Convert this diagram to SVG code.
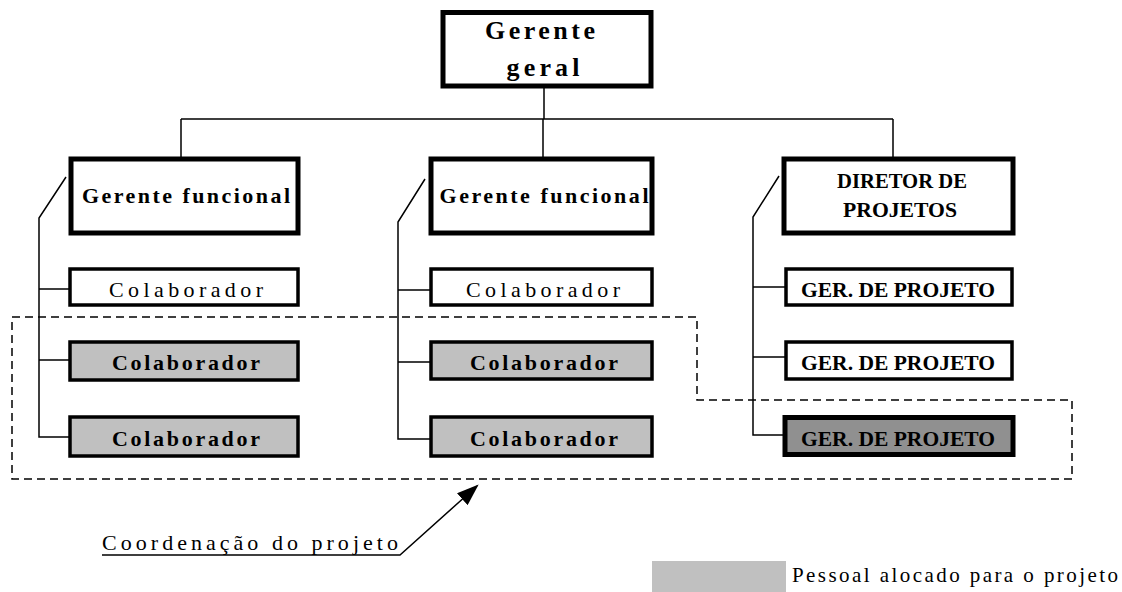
<svg xmlns="http://www.w3.org/2000/svg" width="1122" height="592" viewBox="0 0 1122 592">
<style>
.t{font-family:"Liberation Serif","Times New Roman",serif;fill:#000;text-anchor:middle}
.b{font-weight:bold}
.mgr{fill:#fff;stroke:#000;stroke-width:5}
.col{fill:#fff;stroke:#000;stroke-width:3.5}
.gr{fill:#c0c0c0;stroke:#000;stroke-width:3.5}
.dk{fill:#909090;stroke:#000;stroke-width:5}
.ln{fill:none;stroke:#000;stroke-width:1.5}
.dash{fill:none;stroke:#000;stroke-width:1.5;stroke-dasharray:8 5}
</style>
<defs>
<marker id="ah" viewBox="0 0 10 10" refX="9" refY="5" markerWidth="22" markerHeight="16" markerUnits="userSpaceOnUse" orient="auto" preserveAspectRatio="none">
<path d="M0,0 L10,5 L0,10 z" fill="#000"/>
</marker>
</defs>
<g id="connectors">
<path class="ln" d="M544,86 V119 M181,119 H893 M181,119 V157 M543,119 V157 M893,119 V157"/>
<path class="ln" d="M66,177 L39,218 V437 H70 M39,289 H70 M39,360 H70"/>
<path class="ln" d="M425,179 L398,222 V439 H430 M398,290 H430 M398,362 H430"/>
<path class="ln" d="M779,176 L753,217 V435 H785 M753,287 H785 M753,357 H785"/>
<path class="dash" d="M12,317 H697 V400 H1072 V479 H12 Z"/>
<path class="ln" d="M102,555 H400 L477,486" stroke-width="2" marker-end="url(#ah)"/>
</g>
<g id="gerente-geral">
<rect class="mgr" x="443" y="12.5" width="208" height="73.5"/>
<text class="t b" x="540" y="39" font-size="26" textLength="110" lengthAdjust="spacing">Gerente</text>
<text class="t b" x="543" y="76" font-size="26" textLength="73" lengthAdjust="spacing">geral</text>
</g>
<g id="gerente-funcional-1">
<rect class="mgr" x="71" y="159" width="227" height="74"/>
<text class="t b" x="186" y="203" font-size="22" textLength="208" lengthAdjust="spacing">Gerente funcional</text>
</g>
<g id="gerente-funcional-2">
<rect class="mgr" x="431" y="159" width="221" height="74"/>
<text class="t b" x="544" y="203" font-size="22" textLength="209" lengthAdjust="spacing">Gerente funcional</text>
</g>
<g id="diretor">
<rect class="mgr" x="784" y="159" width="229" height="74"/>
<text class="t b" x="902" y="188" font-size="21" textLength="130" lengthAdjust="spacingAndGlyphs">DIRETOR DE</text>
<text class="t b" x="900" y="217" font-size="21" textLength="114" lengthAdjust="spacingAndGlyphs">PROJETOS</text>
</g>
<g id="colab-1a">
<rect class="col" x="70" y="269" width="228" height="36"/>
<text class="t" x="186" y="297" font-size="22" textLength="154" lengthAdjust="spacing">Colaborador</text>
</g>
<g id="colab-1b">
<rect class="gr" x="70" y="342" width="228" height="38"/>
<text class="t b" x="186" y="370" font-size="22" textLength="148" lengthAdjust="spacing">Colaborador</text>
</g>
<g id="colab-1c">
<rect class="gr" x="70" y="417" width="228" height="39"/>
<text class="t b" x="186" y="446" font-size="22" textLength="148" lengthAdjust="spacing">Colaborador</text>
</g>
<g id="colab-2a">
<rect class="col" x="431" y="269" width="221" height="36"/>
<text class="t" x="543" y="297" font-size="22" textLength="154" lengthAdjust="spacing">Colaborador</text>
</g>
<g id="colab-2b">
<rect class="gr" x="431" y="342" width="221" height="37"/>
<text class="t b" x="544" y="370" font-size="22" textLength="148" lengthAdjust="spacing">Colaborador</text>
</g>
<g id="colab-2c">
<rect class="gr" x="431" y="417" width="221" height="39"/>
<text class="t b" x="544" y="446" font-size="22" textLength="148" lengthAdjust="spacing">Colaborador</text>
</g>
<g id="ger-projeto-1">
<rect class="col" x="786" y="269" width="226" height="36"/>
<text class="t b" x="898" y="297" font-size="21" textLength="194" lengthAdjust="spacingAndGlyphs">GER. DE PROJETO</text>
</g>
<g id="ger-projeto-2">
<rect class="col" x="786" y="342" width="226" height="37"/>
<text class="t b" x="898" y="370" font-size="21" textLength="194" lengthAdjust="spacingAndGlyphs">GER. DE PROJETO</text>
</g>
<g id="ger-projeto-3">
<rect class="dk" x="785" y="417.5" width="228" height="37"/>
<text class="t b" x="898" y="446" font-size="21" textLength="194" lengthAdjust="spacingAndGlyphs">GER. DE PROJETO</text>
</g>
<g id="coordenacao-label">
<text class="t" x="250" y="550" font-size="22" textLength="296" lengthAdjust="spacing">Coordenação do projeto</text>
</g>
<g id="legend">
<rect x="652" y="561" width="134" height="31" fill="#c0c0c0"/>
<text class="t" x="792" y="582" font-size="21" style="text-anchor:start" textLength="326" lengthAdjust="spacing">Pessoal alocado para o projeto</text>
</g>
</svg>
